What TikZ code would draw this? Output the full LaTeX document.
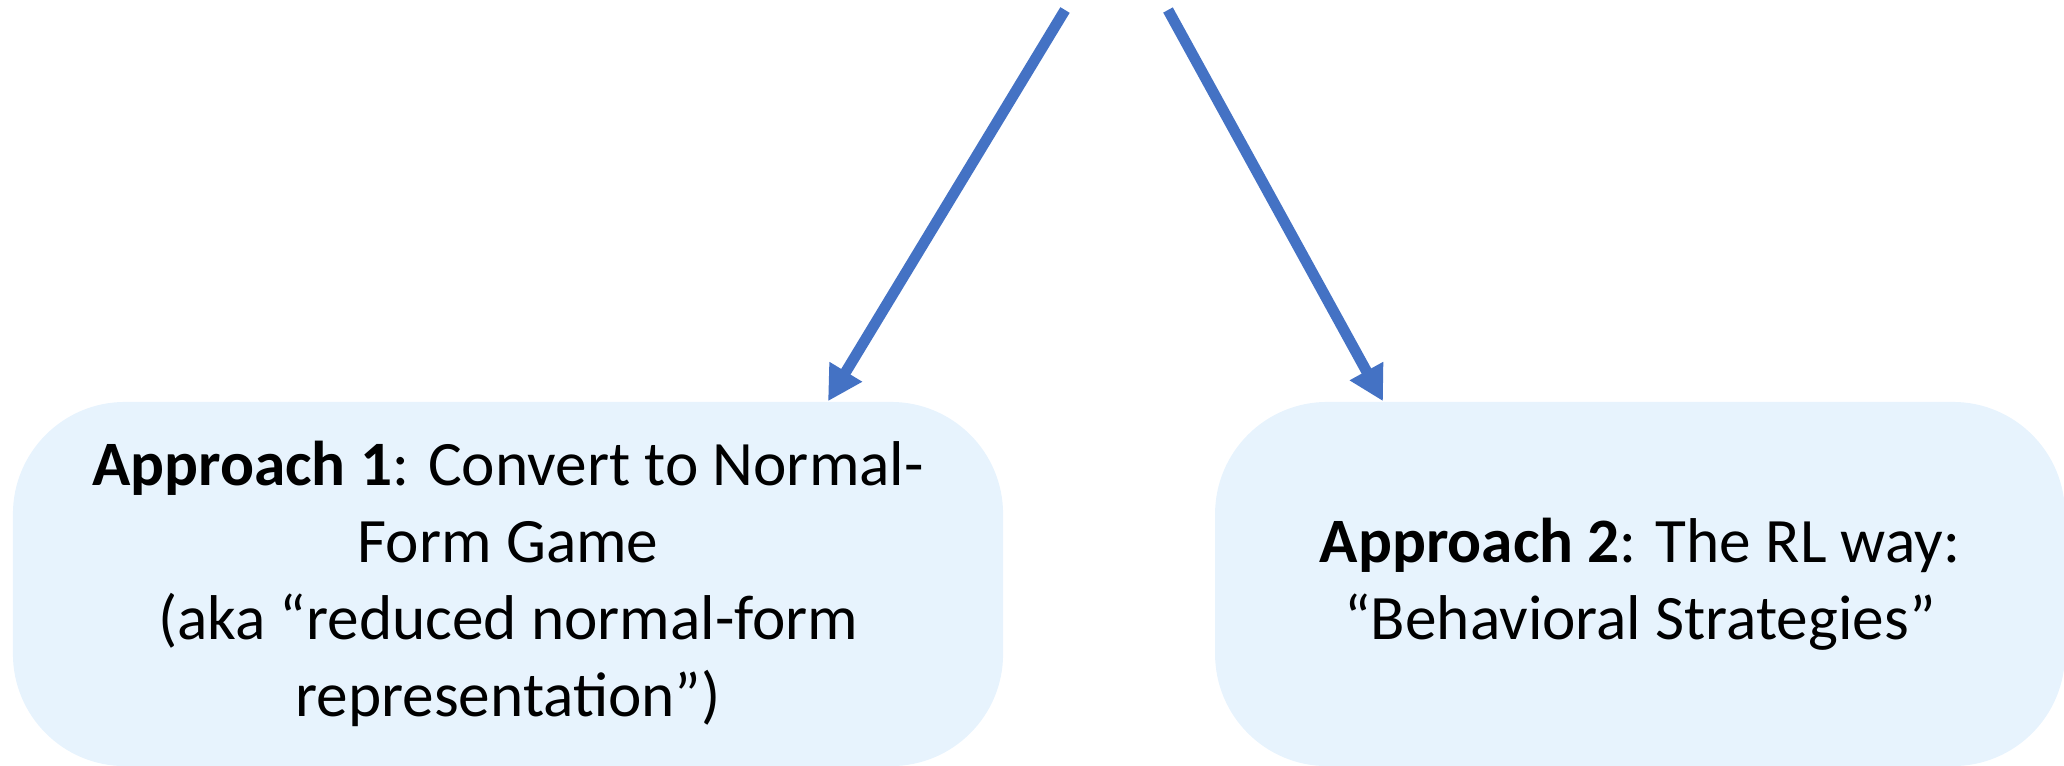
\documentclass[tikz,border=0pt]{standalone}
\usepackage{fontspec}
\setmainfont{Carlito}
\usetikzlibrary{arrows.meta,calc}
\definecolor{boxfill}{RGB}{231,243,253}
\definecolor{arrowblue}{RGB}{68,114,196}
\begin{document}
\begin{tikzpicture}[x=0.2845pt,y=-0.2845pt,
  approach/.style={fill=boxfill, draw=none, rounded corners=31.9pt, inner sep=0pt,
    align=center, minimum height=103.6pt,
    font=\fontsize{18}{21.9}\selectfont},
  link/.style={draw=arrowblue, line width=3.1pt,
    -{Triangle[length=9.8pt,width=10.2pt]}}]
\useasboundingbox (0,0) rectangle (2064,765);

% the two approach boxes
\node[approach, minimum width=281.7pt] (a1) at (508,584)
  {\textbf{Approach 1}: Convert to Normal-\\Form Game\\(aka “reduced normal-form\\representation”)};
\node[approach, minimum width=241.8pt] (a2) at (1640,584)
  {\textbf{Approach 2}: The RL way:\\“Behavioral Strategies”};

% arrows coming in from above
\coordinate (s1) at (1065,10);
\coordinate (s2) at (1168,10);
\draw[link] (s1) -- ($(a1.north)+(320,0)$);
\draw[link] (s2) -- ($(a2.north)+(-257,0)$);
\end{tikzpicture}
\end{document}
